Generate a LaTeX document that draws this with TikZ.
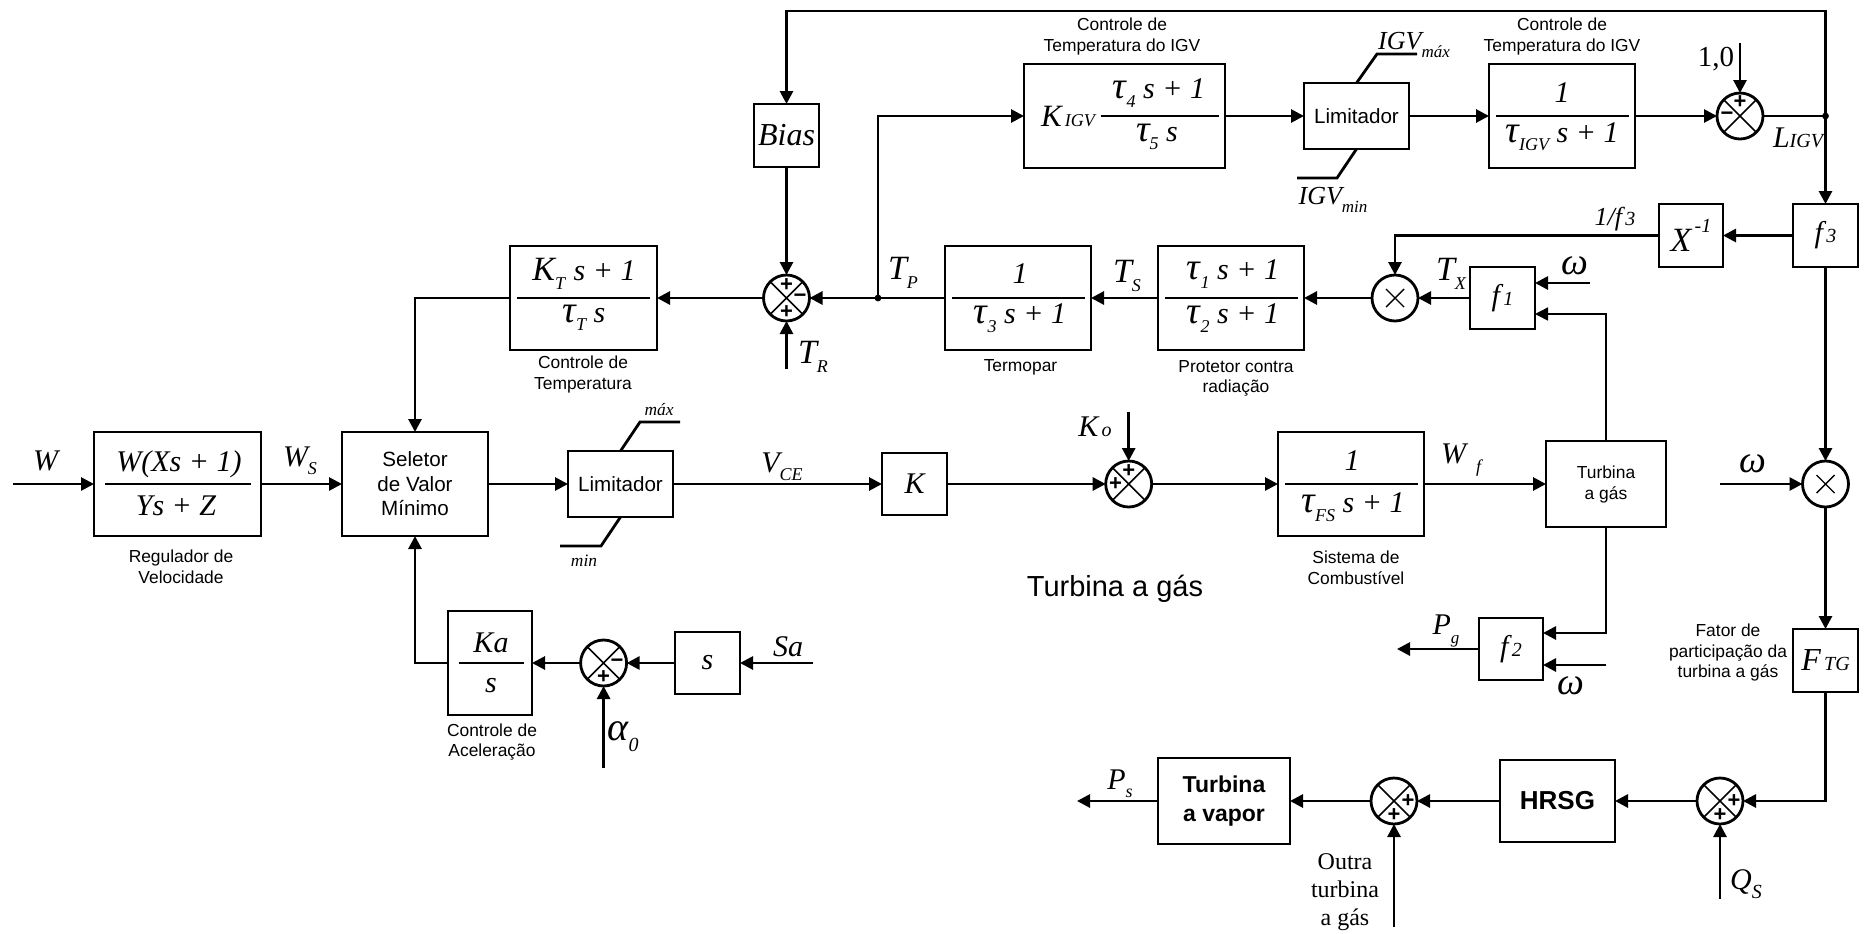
\documentclass[tikz,border=0pt]{standalone}
\usepackage{fontspec}
\setmainfont{Liberation Serif}
\newfontfamily\arl{Liberation Sans}
\usetikzlibrary{arrows.meta}
\newcommand\fsz[1]{\fontsize{#1}{#1}\selectfont}
\newcommand\lowt[2][9]{\raisebox{-.28em}{\fontsize{#1}{#1}\selectfont #2}}
\newcommand\smt[2][9]{{\fontsize{#1}{#1}\selectfont #2}}
\newcommand\tauu{{\fontsize{19}{19}\selectfont τ}}
\tikzset{
 wire/.style={line width=1.4pt},
 conn/.style={wire,-{Triangle[length=6.5pt,width=6.5pt]}},
 thinwire/.style={conn,line width=.8pt},
 blkbox/.style={draw,line width=1.4pt,inner sep=0pt,outer sep=0pt,align=center,font=\fsz{15}\itshape},
 sanslim/.style={font=\arl\fsz{10.3}},
 sumc/.style={draw,circle,line width=1.4pt,minimum size=23pt,inner sep=0pt,outer sep=0pt},
 sgn/.style={font=\arl\bfseries\fsz{11},inner sep=0pt},
 ital/.style={inner sep=0pt,font=\fsz{15}\itshape},
 ups/.style={inner sep=0pt},
 lbl/.style={inner sep=0pt,align=center,font=\arl\fontsize{8.7}{10.3}\selectfont},
 fline/.style={line width=1.4pt},
 jdot/.style={circle,fill,inner sep=0pt,minimum size=3.4pt},
}
\newcommand\blk[7][]{\node[blkbox,minimum width={(#5-#3)*0.5pt},minimum height={(#6-#4)*0.5pt},#1] (#2) at ({(#3+#5)/2},{(#4+#6)/2}) {#7};}
\newcommand\sumj[3]{\node[sumc] (#1) at (#2,#3) {};
 \draw[line width=.8pt] (#1.45)--(#1.225) (#1.135)--(#1.315);}
\newcommand\mulj[3]{\node[sumc] (#1) at (#2,#3) {};
 \draw[line width=.7pt] ([shift={(-9,-9)}]#1.center)--([shift={(9,9)}]#1.center) ([shift={(-9,9)}]#1.center)--([shift={(9,-9)}]#1.center);}
\begin{document}
\begin{tikzpicture}[x=0.5pt,y=-0.5pt]
\useasboundingbox (0,0) rectangle (1865,933);
% ---- blocks
\blk{reg}{94}{432}{261}{536}{}
\blk[font=\arl\fontsize{10.3}{12.2}\selectfont]{sel}{342}{432}{488}{536}{Seletor\\de Valor\\Mínimo}
\blk[sanslim]{limA}{568}{451}{673}{517}{Limitador}
\blk{ka}{448}{611}{532}{715}{}
\blk{sbox}{675}{632}{740}{694}{s}
\blk{kbox}{882}{453}{947}{515}{K}
\blk{fs}{1278}{432}{1424}{536}{}
\blk[font=\arl\fontsize{8.7}{10.5}\selectfont]{turb}{1546}{441}{1666}{527}{Turbina\\a gás}
\blk{kt}{510}{246}{657}{350}{}
\blk[font=\fsz{16}\itshape]{bias}{754}{104}{819}{167}{Bias}
\blk{kigv}{1024}{64}{1225}{168}{}
\blk[sanslim]{limB}{1304}{83}{1409}{149}{Limitador}
\blk{tigv}{1489}{64}{1635}{168}{}
\blk{tcb}{945}{246}{1091}{350}{}
\blk{tpb}{1158}{246}{1304}{350}{}
\blk{fa}{1470}{267}{1535}{329}{f\smt[10]{\,1}}
\blk{fb}{1479}{618}{1543}{680}{f\smt[10]{\,2}}
\blk{fc}{1793}{204}{1858}{267}{f\smt[10]{\,3}}
\blk{xinv}{1659}{204}{1723}{267}{\fsz{17}X\raisebox{.55em}{\smt[10]{\,-1}}}
\blk{ftg}{1793}{629}{1858}{692}{\fsz{16}F\smt[10]{\,TG}}
\blk[font=\arl\bfseries\fsz{13}]{hrsg}{1500}{760}{1615}{842}{HRSG}
\blk[font=\arl\bfseries\fontsize{11.5}{14.5}\selectfont]{tvap}{1158}{758}{1290}{844}{Turbina\\a vapor}
% ---- junctions
\sumj{sa}{786.5}{298}
\node[sgn] (sa1) at (786.5,285) {+};
\node[sgn] (sa2) at (800,298) {−};
\node[sgn] (sa3) at (786.5,312) {+};
\sumj{sb}{1740}{116}
\node[sgn] (sb1) at (1740,102) {+};
\node[sgn] (sb2) at (1727,116) {−};
\sumj{sc}{603.6}{663}
\node[sgn] (sc1) at (617,663) {−};
\node[sgn] (sc2) at (603.6,677) {+};
\sumj{sd}{1128.7}{484}
\node[sgn] (sd1) at (1128.7,471) {+};
\node[sgn] (sd2) at (1115.5,484) {+};
\sumj{se}{1394}{801}
\node[sgn] (se1) at (1408,801) {+};
\node[sgn] (se2) at (1394,815) {+};
\sumj{sf}{1720}{801}
\node[sgn] (sf1) at (1734,801) {+};
\node[sgn] (sf2) at (1720,815) {+};
\mulj{ma}{1395}{298}
\mulj{mb}{1825.5}{484}
% ---- free ends
\coordinate (wIn) at (13,484);
\coordinate (saIn) at (813,663);
\coordinate (alphaIn) at (603.6,768);
\coordinate (trIn) at (786.5,369);
\coordinate (koIn) at (1128.7,412);
\coordinate (oneIn) at (1740,43);
\coordinate (omA) at (1590,283);
\coordinate (bfA) at (1606,314);
\coordinate (omB) at (1720,484);
\coordinate (bfB) at (1606,633);
\coordinate (omC) at (1606,665);
\coordinate (pgOut) at (1397,649);
\coordinate (psOut) at (1077,801);
\coordinate (qIn) at (1720,899);
\coordinate (otIn) at (1394,927);
\coordinate (tc) at (786.5,11);
\coordinate (ftgC) at (1825.5,801);
\coordinate (xC) at (1395,235.5);
\coordinate (kaC) at (415,663);
\coordinate (ktC) at (415,298);
\coordinate (amax1) at (640,422); \coordinate (amax2) at (680,422);
\coordinate (amin1) at (601,546); \coordinate (amin2) at (560,546);
\coordinate (bmax1) at (1377,54); \coordinate (bmax2) at (1417,54);
\coordinate (bmin1) at (1337,178); \coordinate (bmin2) at (1297,178);
\node[jdot] (jp) at (878,298) {};
\node[jdot] (jl) at (1825.5,116) {};
\coordinate (jpC) at (878,116);
% ---- connectors
\draw[conn] (wIn)--(reg);
\draw[conn] (reg)--(sel);
\draw[conn] (sel)--(limA);
\draw[conn] (limA)--(kbox);
\draw[conn] (kbox)--(sd);
\draw[conn] (sd)--(fs);
\draw[conn] (fs)--(turb);
\draw[conn] (koIn)--(sd);
\draw[conn] (ka.west)--(kaC)--(sel.south);
\draw[conn] (sc)--(ka);
\draw[conn] (sbox)--(sc);
\draw[conn] (saIn)--(sbox);
\draw[conn] (alphaIn)--(sc);
\draw[conn] (kt.west)--(ktC)--(sel.north);
\draw[conn] (sa)--(kt);
\draw[conn] (bias)--(sa);
\draw[conn] (trIn)--(sa);
\draw[conn] (tcb)--(sa);
\draw[conn] (jp.center)--(jpC)--(kigv.west);
\draw[conn] (tpb)--(tcb);
\draw[conn] (ma)--(tpb);
\draw[conn] (fa)--(ma);
\draw[conn] (xinv.west)--(xC)--(ma.north);
\draw[conn] (fc)--(xinv);
\draw[conn] (omA)--(omA -| fa.east);
\draw[thinwire] (turb.north)--(bfA)--(bfA -| fa.east);
\draw[conn] (kigv)--(limB);
\draw[conn] (limB)--(tigv);
\draw[conn] (tigv)--(sb);
\draw[conn] (oneIn)--(sb);
\draw[wire] (sb)--(jl.center);
\draw[conn] (jl.center)--(tc -| jl)--(tc)--(bias.north);
\draw[conn] (jl.center)--(fc.north);
\draw[conn] (fc)--(mb);
\draw[conn] (omB)--(mb);
\draw[conn] (mb)--(ftg);
\draw[conn] (ftg.south)--(ftgC)--(sf.east);
\draw[conn] (sf)--(hrsg);
\draw[conn] (hrsg)--(se);
\draw[conn] (se)--(tvap);
\draw[conn] (tvap)--(psOut);
\draw[conn] (qIn)--(sf);
\draw[conn] (otIn)--(se);
\draw[conn] (turb.south)--(bfB)--(bfB -| fb.east);
\draw[conn] (omC)--(omC -| fb.east);
\draw[conn] (fb.west |- pgOut)--(pgOut);
\draw[wire] (limA.north)--(amax1)--(amax2);
\draw[wire] (limA.south)--(amin1)--(amin2);
\draw[wire] (limB.north)--(bmax1)--(bmax2);
\draw[wire] (limB.south)--(bmin1)--(bmin2);
% ---- fraction bars
\draw[fline] (105,484)--(251,484);
\draw[fline] (459,663)--(524,663);
\draw[fline] (1285,484)--(1418,484);
\draw[fline] (517,298)--(650,298);
\draw[fline] (1100.5,116)--(1219,116);
\draw[fline] (1496,116)--(1629,116);
\draw[fline] (952,298)--(1085,298);
\draw[fline] (1165,298)--(1298,298);
% ---- fraction texts
\node[ital] (t1) at (179,464) {W(Xs + 1)};
\node[ital] (t2) at (176,506) {Ys + Z};
\node[ital] (t3) at (491,643) {Ka};
\node[ital] (t4) at (491,686) {s};
\node[ital] (t5) at (1352,461) {1};
\node[ital] (t6) at (1353,507) {\tauu\lowt{FS} s + 1};
\node[ital] (t7) at (584,274) {\fsz{17}K\lowt{T} \fsz{15}s + 1};
\node[ital] (t8) at (584,318) {\tauu\lowt{T} s};
\node[ital] (t9) at (1068,116) {\fsz{15.5}K\smt[9]{\,IGV}};
\node[ital] (t10) at (1159,93) {\tauu\lowt{4} s + 1};
\node[ital] (t11) at (1157,137) {\tauu\lowt{5} s};
\node[ital] (t12) at (1562,93) {1};
\node[ital] (t13) at (1562,137) {\tauu\lowt{IGV} s + 1};
\node[ital] (t14) at (1020,274) {1};
\node[ital] (t15) at (1020,318) {\tauu\lowt{3} s + 1};
\node[ital] (t16) at (1233,274) {\tauu\lowt{1} s + 1};
\node[ital] (t17) at (1233,318) {\tauu\lowt{2} s + 1};
% ---- signal labels
\node[ital] (l1) at (45.5,461) {W};
\node[ital] (l2) at (300,461) {W\lowt{S}};
\node[ital] (l3) at (782,467) {V\lowt{CE}};
\node[ital] (l4) at (788,647) {Sa};
\node[ital,font=\fsz{20}\itshape] (l5) at (623,737) {α\lowt[10]{0}};
\node[ital] (l6) at (903,273) {\fsz{17}T\lowt{P}};
\node[ital] (l7) at (1127,276) {\fsz{17}T\lowt{S}};
\node[ital] (l8) at (813,357) {\fsz{17}T\lowt{R}};
\node[ital] (l9) at (1095,427) {K\smt[10]{\,o}};
\node[ital] (l10) at (1461,460) {W\,\,\lowt[9]{f}};
\node[ital] (l11) at (1451,274) {\fsz{17}T\lowt{X}};
\node[ital,font=\fsz{19}\itshape] (l12) at (1575,266) {ω};
\node[ital,font=\fsz{19}\itshape] (l13) at (1753,464) {ω};
\node[ital,font=\fsz{19}\itshape] (l14) at (1571,686) {ω};
\node[ital] (l15) at (1798,138) {L\smt[10]{IGV}};
\node[ital,font=\fsz{13}\itshape] (l16) at (1615,219) {1/f\smt[10]{\,3}};
\node[ital] (l17) at (1446,631) {P\lowt[8.5]{g}};
\node[ital] (l18) at (1120,784) {P\lowt[9]{s}};
\node[ital] (l19) at (1746,884) {Q\lowt[10]{S}};
\node[ups,font=\fsz{14.5}] (l20) at (1716,59) {1,0};
\node[ital,font=\fsz{13}\itshape] (l21) at (1414,45) {IGV\lowt[8.5]{máx}};
\node[ital,font=\fsz{13}\itshape] (l22) at (1333,200) {IGV\lowt[8.5]{min}};
\node[ital,font=\fsz{8.7}\itshape] (l23) at (659,410) {máx};
\node[ital,font=\fsz{8.7}\itshape] (l24) at (584,561) {min};
% ---- captions
\node[lbl] (c1) at (181,567) {Regulador de\\Velocidade};
\node[lbl] (c2) at (492,742) {Controle de\\Aceleração};
\node[lbl] (c3) at (583,374.5) {Controle de\\Temperatura};
\node[lbl] (c4) at (1122,36.5) {Controle de\\Temperatura do IGV};
\node[lbl] (c5) at (1562,36.5) {Controle de\\Temperatura do IGV};
\node[lbl] (c6) at (1020.5,367) {Termopar};
\node[lbl] (c7) at (1236,378.5) {Protetor contra\\radiação};
\node[lbl] (c8) at (1356,568) {Sistema de\\Combustível};
\node[lbl] (c9) at (1728,652.5) {Fator de\\participação da\\turbina a gás};
\node[ups,font=\arl\fsz{14.5}] (c10) at (1115,589) {Turbina a gás};
\node[ups,align=center,font=\fontsize{12}{14}\selectfont] (c11) at (1345,892) {Outra\\turbina\\a gás};
\end{tikzpicture}
\end{document}
